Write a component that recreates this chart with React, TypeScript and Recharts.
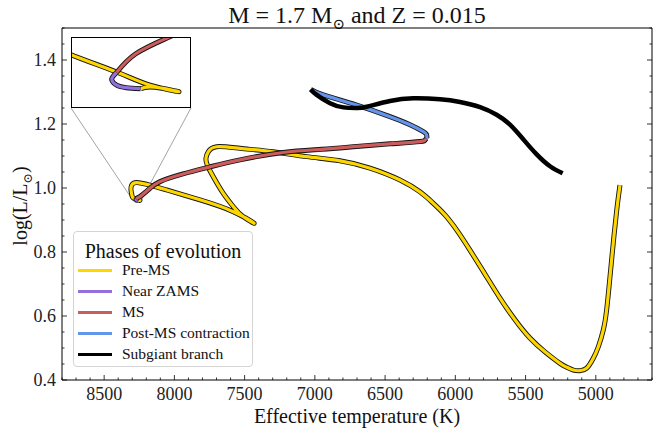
import { LineChart, Line, XAxis, YAxis, ReferenceLine } from 'recharts'

// Evolutionary track, as [Teff (K), log(L/Lsun)]
type Pt = [number, number]

const preMs: Pt[] = [
  [4828, 1.009], [4851, 0.931], [4876, 0.827], [4899, 0.723], [4923, 0.619],
  [4947, 0.556], [4982, 0.504], [5018, 0.468], [5065, 0.437], [5113, 0.429],
  [5160, 0.431], [5207, 0.44], [5255, 0.452], [5362, 0.488], [5469, 0.531],
  [5575, 0.588], [5682, 0.656], [5789, 0.731], [5896, 0.806], [5981, 0.863],
  [6074, 0.916], [6166, 0.956], [6252, 0.988], [6394, 1.025], [6607, 1.062],
  [6821, 1.085], [7058, 1.098], [7296, 1.113], [7533, 1.124], [7699, 1.129],
  [7759, 1.113], [7775, 1.093], [7766, 1.072], [7723, 1.035], [7652, 0.983],
  [7581, 0.942], [7509, 0.91], [7433, 0.89], [7581, 0.926], [7818, 0.963],
  [8055, 0.994], [8174, 1.009], [8268, 1.017], [8304, 1.009], [8309, 0.994],
  [8301, 0.975],
]
// last wiggle before the ZAMS (what the inset shows)
const preMsTail: Pt[] = [
  [8292, 0.9689], [8271, 0.9651], [8257, 0.9625], [8245, 0.9612], [8255, 0.9621], [8261, 0.9618],
]
const nearZams: Pt[] = [
  [8261, 0.9618], [8267, 0.962], [8271, 0.9625], [8273, 0.9635], [8272.4, 0.9643], [8271, 0.965],
]
const ms: Pt[] = [
  [8271, 0.965], [8263, 0.9687], [8250, 0.9718], [8230, 0.978], [8174, 0.999], [8102, 1.02],
  [7939, 1.044], [7746, 1.066], [7533, 1.088], [7225, 1.111], [6950, 1.121], [6702, 1.13],
  [6465, 1.138], [6252, 1.145], [6216, 1.15], [6202, 1.155],
]
const postMs: Pt[] = [
  [6202, 1.155], [6204, 1.166], [6228, 1.176], [6330, 1.199], [6465, 1.223], [6702, 1.259],
  [6940, 1.291], [7030, 1.308],
]
const subgiant: Pt[] = [
  [7030, 1.308], [6987, 1.291], [6892, 1.265], [6797, 1.252], [6702, 1.25], [6631, 1.254],
  [6465, 1.272], [6300, 1.2805], [6109, 1.2775], [5967, 1.269], [5824, 1.253], [5706, 1.229],
  [5611, 1.198], [5516, 1.152], [5421, 1.105], [5326, 1.068], [5236, 1.046],
]

const xMajor = [5000, 5500, 6000, 6500, 7000, 7500, 8000, 8500]
const xTicks = Array.from({ length: 43 }, (_, i) => 4600 + i * 100)
const yMajor = [0.4, 0.6, 0.8, 1.0, 1.2, 1.4]
const yTicks = Array.from({ length: 23 }, (_, i) => Math.round((0.4 + i * 0.05) * 100) / 100)

const SERIF = "'Liberation Serif', 'Times New Roman', 'DejaVu Serif', serif"
const rows = (pts: Pt[]) => pts.map(([t, l]) => ({ t, l }))

const phases = [
  { name: 'Pre-MS', color: '#ffd700', data: rows([...preMs, ...preMsTail]), outline: true },
  { name: 'Near ZAMS', color: '#9370db', data: rows(nearZams), outline: true },
  { name: 'MS', color: '#cd5c5c', data: rows(ms), outline: true },
  { name: 'Post-MS contraction', color: '#6495ed', data: rows(postMs), outline: true },
  { name: 'Subgiant branch', color: '#000000', data: rows(subgiant), outline: false },
]

const isMajorT = (v: number) => xMajor.includes(v)
const isMajorL = (v: number) => yMajor.some(m => Math.abs(m - v) < 1e-6)

const BottomTick = ({ x, y, payload }: any) => {
  const major = isMajorT(payload.value)
  return (
    <g>
      <line x1={x} x2={x} y1={y} y2={y - (major ? 5 : 2.5)} stroke="#000" strokeWidth={0.8} />
      {major && (
        <text x={x} y={y + 14} textAnchor="middle" dominantBaseline="central" fontSize={18} fontFamily={SERIF} fill="#222">
          {payload.value}
        </text>
      )}
    </g>
  )
}
const TopTick = ({ x, y, payload }: any) => (
  <line x1={x} x2={x} y1={y} y2={y + (isMajorT(payload.value) ? 5 : 2.5)} stroke="#000" strokeWidth={0.8} />
)
const LeftTick = ({ x, y, payload }: any) => {
  const major = isMajorL(payload.value)
  return (
    <g>
      <line x1={x} x2={x + (major ? 5 : 2.5)} y1={y} y2={y} stroke="#000" strokeWidth={0.8} />
      {major && (
        <text x={x - 6} y={y} textAnchor="end" dominantBaseline="central" fontSize={18} fontFamily={SERIF} fill="#222">
          {payload.value.toFixed(1)}
        </text>
      )}
    </g>
  )
}
const RightTick = ({ x, y, payload }: any) => (
  <line x1={x} x2={x - (isMajorL(payload.value) ? 5 : 2.5)} y1={y} y2={y} stroke="#000" strokeWidth={0.8} />
)

function tracks(prefix: string) {
  return phases.flatMap(p => {
    const out = []
    if (p.outline) {
      out.push(
        <Line key={prefix + p.name + '-edge'} data={p.data} dataKey="l" type="natural" stroke="#151515"
          strokeWidth={5} dot={false} activeDot={false} isAnimationActive={false} strokeLinejoin="round" />
      )
    }
    out.push(
      <Line key={prefix + p.name} data={p.data} dataKey="l" type="natural" stroke={p.color}
        strokeWidth={p.outline ? 3.2 : 4.5} dot={false} activeDot={false} isAnimationActive={false} strokeLinejoin="round" />
    )
    return out
  })
}

export default function App() {
  return (
    <div style={{ position: 'absolute', left: 0, top: 0, width: 653, height: 431, background: '#fff', fontFamily: SERIF }}>
      <div style={{ position: 'absolute', left: 62, top: 1, width: 590, textAlign: 'center', fontSize: 24, lineHeight: '28px', color: '#111' }}>
        M = 1.7 M<sub style={{ fontSize: '0.62em' }}>⊙</sub> and Z = 0.015
      </div>

      <LineChart width={653} height={431} margin={{ top: 27, right: 0, bottom: 50, left: 61 }}>
        <XAxis dataKey="t" type="number" domain={[4600, 8800]} reversed allowDataOverflow ticks={xTicks}
          interval={0} tickSize={0} tickMargin={0} height={1} tick={BottomTick} axisLine={{ stroke: '#000' }} />
        <XAxis xAxisId="top" orientation="top" type="number" domain={[4600, 8800]} reversed allowDataOverflow
          ticks={xTicks} interval={0} tickSize={0} tickMargin={0} height={1} tick={TopTick} axisLine={{ stroke: '#000' }} />
        <YAxis type="number" domain={[0.4, 1.5]} allowDataOverflow ticks={yTicks} interval={0} tickSize={0}
          tickMargin={0} width={1} tick={LeftTick} axisLine={{ stroke: '#000' }} />
        <YAxis yAxisId="right" orientation="right" type="number" domain={[0.4, 1.5]} allowDataOverflow ticks={yTicks}
          interval={0} tickSize={0} tickMargin={0} width={1} tick={RightTick} axisLine={{ stroke: '#000' }} />
        <ReferenceLine segment={[{ x: 8736, y: 1.25 }, { x: 8290, y: 0.958 }]} stroke="#8c8c8c" strokeWidth={0.8} />
        <ReferenceLine segment={[{ x: 7882, y: 1.25 }, { x: 8240, y: 0.958 }]} stroke="#8c8c8c" strokeWidth={0.8} />
        {tracks('main-')}
      </LineChart>

      <div style={{ position: 'absolute', left: 22, top: 206, transform: 'translate(-50%, -50%) rotate(-90deg)', fontSize: 20, whiteSpace: 'nowrap', color: '#111' }}>
        log(L/L<sub style={{ fontSize: '0.62em' }}>⊙</sub>)
      </div>
      <div style={{ position: 'absolute', left: 62, top: 404, width: 590, textAlign: 'center', fontSize: 20, lineHeight: '24px', color: '#111' }}>
        Effective temperature (K)
      </div>

      {/* zoomed inset around the ZAMS */}
      <div style={{ position: 'absolute', left: 71, top: 37, width: 120, height: 71, background: '#fff' }}>
        <LineChart width={120} height={71} margin={{ top: 0, right: 0, bottom: 0, left: 0 }}>
          <XAxis dataKey="t" type="number" domain={[8240, 8290]} reversed allowDataOverflow hide />
          <YAxis type="number" domain={[0.958, 0.972]} allowDataOverflow hide />
          {tracks('inset-')}
        </LineChart>
        <div style={{ position: 'absolute', inset: 0, border: '1px solid #000', pointerEvents: 'none' }} />
      </div>

      {/* legend */}
      <div style={{ position: 'absolute', left: 73, top: 231, width: 180, height: 136, border: '1px solid #d4d4d4', borderRadius: 4, background: 'rgba(255,255,255,0.85)', boxSizing: 'border-box' }}>
        <div style={{ position: 'absolute', left: 0, right: 0, top: 7, textAlign: 'center', fontSize: 20, lineHeight: '24px', color: '#111' }}>
          Phases of evolution
        </div>
        {phases.map((p, i) => (
          <div key={p.name} style={{ position: 'absolute', left: 4, top: 38 + i * 21 - 10, height: 20, display: 'flex', alignItems: 'center' }}>
            <span style={{ display: 'inline-block', width: 34, height: 3, background: p.color }} />
            <span style={{ marginLeft: 10, fontSize: 15.5, color: '#111', whiteSpace: 'nowrap' }}>{p.name}</span>
          </div>
        ))}
      </div>
    </div>
  )
}
